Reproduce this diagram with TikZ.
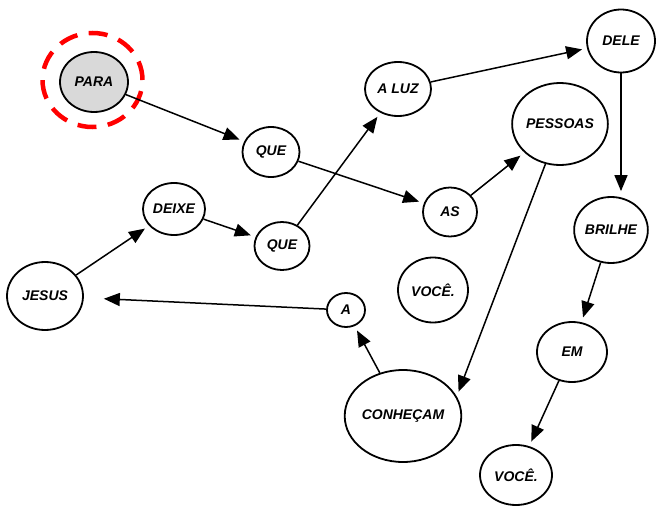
\documentclass[tikz,border=0pt]{standalone}
\usepackage{fontspec}
\setmainfont{Liberation Sans}
\usetikzlibrary{arrows.meta,shapes.geometric,calc}

\tikzset{
	word/.style={draw, ellipse, line width=1.8pt, inner sep=0pt, font=\fontsize{14}{16}\selectfont\bfseries\itshape},
	link/.style={-{Triangle[length=16pt,width=13pt]}, line width=1.5pt, shorten >=5pt},
}

\begin{document}
\begin{tikzpicture}[x=1pt, y=-1pt]
	\useasboundingbox (0,0) rectangle (657,506);

	\draw[red, line width=4.5pt, dash pattern=on 19pt off 11.5pt] (92.5,80) ellipse (50pt and 47pt);
	\node[word, fill=gray!30, minimum width=68pt, minimum height=60pt] (para) at (94,82) {PARA};

	\node[word, minimum width=57pt, minimum height=50pt] (que1) at (271,152) {QUE};
	\node[word, minimum width=62pt, minimum height=52pt] (deixe) at (174,209) {DEIXE};
	\node[word, minimum width=55pt, minimum height=48pt] (que2) at (282,246) {QUE};
	\node[word, minimum width=76pt, minimum height=68pt] (jesus) at (45,296) {JESUS};
	\node[word, minimum width=66pt, minimum height=54pt] (aluz) at (398,89) {A LUZ};
	\node[word, minimum width=54pt, minimum height=49pt] (as) at (450,212) {AS};
	\node[word, minimum width=70pt, minimum height=65pt] (voce1) at (433,290) {VOCÊ.};
	\node[word, minimum width=38pt, minimum height=34pt] (a) at (346,310) {A};
	\node[word, minimum width=100pt, minimum height=92pt] (conhecam) at (403,416) {CONHEÇAM};
	\node[word, minimum width=68pt, minimum height=63pt] (dele) at (621,41) {DELE};
	\node[word, minimum width=90pt, minimum height=82pt] (pessoas) at (560,124) {PESSOAS};
	\node[word, minimum width=68pt, minimum height=66pt] (brilhe) at (611,230) {BRILHE};
	\node[word, minimum width=70pt, minimum height=60pt] (em) at (572,352) {EM};
	\node[word, minimum width=72pt, minimum height=60pt] (voce2) at (516,475) {VOCÊ.};

	\draw[link] (para) -- (que1);
	\draw[link] (que1) -- (as);
	\draw[link] (jesus) -- (deixe);
	\draw[link] (deixe) -- (que2);
	\draw[link] (que2) -- (aluz);
	\draw[link] (aluz) -- (dele);
	\draw[link] (as) -- (pessoas);
	\draw[link] (dele) -- (dele |- brilhe.north);
	\draw[link] (pessoas.250) -- (conhecam.20);
	\draw[link] (brilhe) -- (em);
	\draw[link] (em) -- (voce2);
	\draw[link] (conhecam) -- (a);
	\draw[link, shorten >=20pt] (a) -- (jesus);

\end{tikzpicture}
\end{document}
